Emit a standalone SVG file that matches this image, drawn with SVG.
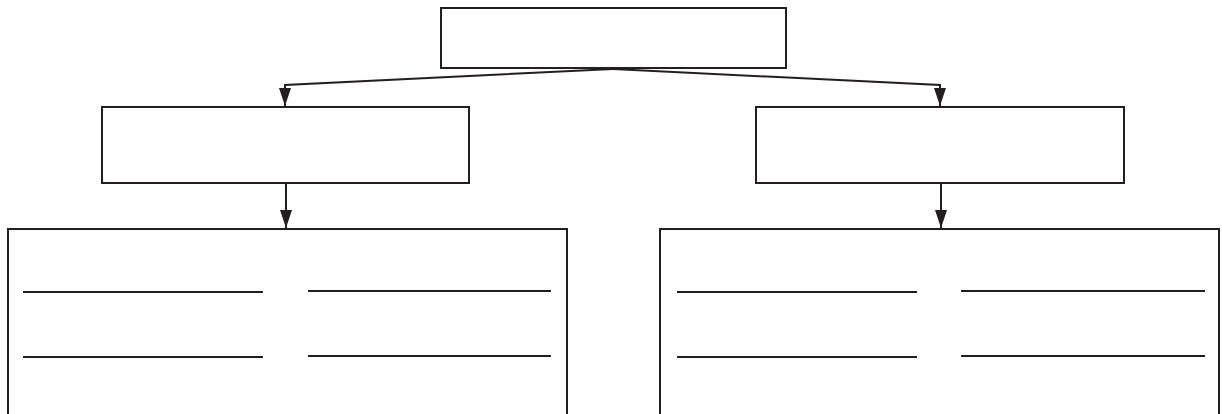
<svg xmlns="http://www.w3.org/2000/svg" width="1222" height="414" viewBox="0 0 1222 414">
<style>
.box{fill:#fff;stroke:#231f20;stroke-width:2}
.ln{stroke:#231f20;stroke-width:2;fill:none}
.rule{stroke:#231f20;stroke-width:2}
</style>
<defs>
<marker id="ah" viewBox="0 0 18 12" refX="18" refY="6" markerWidth="18" markerHeight="12" markerUnits="userSpaceOnUse" orient="auto">
<path d="M0,0 L18,6 L0,12 Z" fill="#231f20"/>
</marker>
</defs>
<rect width="1222" height="414" fill="#fff"/>
<g id="connectors">
<polyline class="ln" points="613,69 285,85 285,106" marker-end="url(#ah)"/>
<polyline class="ln" points="613,69 940,85 940,106" marker-end="url(#ah)"/>
<line class="ln" x1="286" y1="183" x2="286" y2="228" marker-end="url(#ah)"/>
<line class="ln" x1="941" y1="183" x2="941" y2="228" marker-end="url(#ah)"/>
</g>
<g id="top"><rect class="box" x="441" y="8" width="345" height="60"/></g>
<g id="midLeft"><rect class="box" x="102" y="107" width="367" height="76"/></g>
<g id="midRight"><rect class="box" x="756" y="107" width="368" height="76"/></g>
<g id="bottomLeft">
<rect class="box" x="8" y="229" width="559" height="190"/>
<line class="rule" x1="23" y1="292" x2="263" y2="292"/>
<line class="rule" x1="23" y1="357" x2="263" y2="357"/>
<line class="rule" x1="308" y1="291" x2="551" y2="291"/>
<line class="rule" x1="308" y1="356" x2="551" y2="356"/>
</g>
<g id="bottomRight">
<rect class="box" x="660" y="229" width="559" height="190"/>
<line class="rule" x1="677" y1="292" x2="917" y2="292"/>
<line class="rule" x1="677" y1="357" x2="917" y2="357"/>
<line class="rule" x1="961" y1="291" x2="1205" y2="291"/>
<line class="rule" x1="961" y1="356" x2="1205" y2="356"/>
</g>
</svg>
